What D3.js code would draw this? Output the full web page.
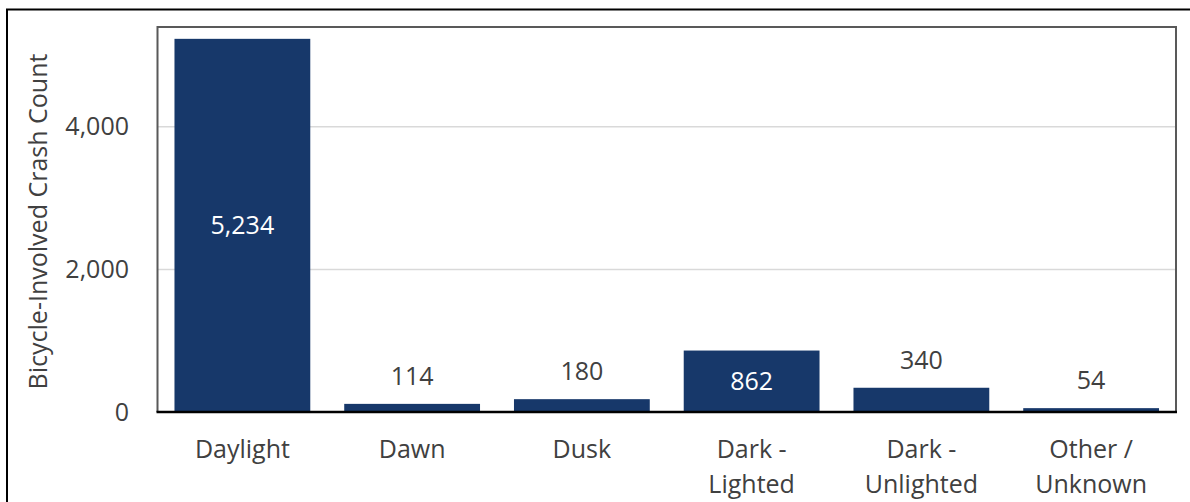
<!DOCTYPE html>
<html>
<head>
<meta charset="utf-8">
<script src="https://cdn.jsdelivr.net/npm/d3@7"></script>
<style>
  html, body { margin: 0; padding: 0; background: #fff; }
  svg { display: block; }
  text { font-family: "Open Sans", "Noto Sans", sans-serif; }
</style>
</head>
<body>
<svg id="chart" width="1190" height="502"></svg>
<script>
// Bicycle-involved crashes by lighting condition
const categories = ["Daylight", "Dawn", "Dusk", "Dark - Lighted", "Dark - Unlighted", "Other / Unknown"];
const categoryLines = [["Daylight"], ["Dawn"], ["Dusk"], ["Dark -", "Lighted"], ["Dark -", "Unlighted"], ["Other /", "Unknown"]];
const crashCounts = [5234, 114, 180, 862, 340, 54];
const tickValues = [0, 2000, 4000];
const labelsInside = [true, false, false, true, false, false];

const svg = d3.select("#chart");
const W = 1190, H = 502;
const FS = 25;
const plot = { left: 157.5, top: 27, right: 1176, bottom: 412 };

// Outer frame (only top and left edges fall inside the view)
svg.append("rect")
  .attr("x", 7).attr("y", 9.5)
  .attr("width", W + 20).attr("height", H + 20)
  .attr("fill", "none").attr("stroke", "#000").attr("stroke-width", 2);

const x = d3.scaleBand()
  .domain(categories)
  .range([plot.left, plot.right])
  .paddingInner(0.2)
  .paddingOuter(0.1);

const y = d3.scaleLinear()
  .domain([0, 5400])
  .range([plot.bottom, plot.top]);

// Gridlines
svg.append("g")
  .selectAll("line")
  .data(tickValues.filter(v => v > 0))
  .join("line")
  .attr("x1", plot.left).attr("x2", plot.right)
  .attr("y1", d => y(d)).attr("y2", d => y(d))
  .attr("stroke", "#d9d9d9").attr("stroke-width", 1.5);

// Plot area frame
svg.append("path")
  .attr("d", `M${plot.left},${plot.bottom} V${plot.top} H${plot.right} V${plot.bottom}`)
  .attr("fill", "none").attr("stroke", "#595959").attr("stroke-width", 2);

// Bars
svg.append("g")
  .selectAll("rect")
  .data(crashCounts)
  .join("rect")
  .attr("x", (d, i) => x(categories[i]))
  .attr("width", x.bandwidth())
  .attr("y", d => y(d))
  .attr("height", d => y(0) - y(d))
  .attr("fill", "#17386a");

// Baseline
svg.append("line")
  .attr("x1", plot.left - 1).attr("x2", plot.right + 1)
  .attr("y1", y(0)).attr("y2", y(0))
  .attr("stroke", "#000").attr("stroke-width", 2.5);

// Y axis tick labels
const yAxis = d3.axisLeft(y)
  .tickValues(tickValues)
  .tickFormat(d3.format(","))
  .tickSize(0)
  .tickPadding(0);
const yg = svg.append("g")
  .attr("transform", `translate(129,0)`)
  .call(yAxis);
yg.select(".domain").remove();
yg.selectAll("text")
  .attr("font-size", FS)
  .attr("fill", "#404040")
  .attr("font-family", "'Open Sans', sans-serif");

// Y axis title
svg.append("text")
  .attr("transform", `translate(47,${(plot.top + plot.bottom) / 2 + 2}) rotate(-90)`)
  .attr("text-anchor", "middle")
  .attr("font-size", FS)
  .attr("fill", "#404040")
  .text("Bicycle-Involved Crash Count");

// Category labels (wrapped)
const xg = svg.append("g");
categoryLines.forEach((lines, i) => {
  const cx = x(categories[i]) + x.bandwidth() / 2;
  const t = xg.append("text")
    .attr("x", cx).attr("y", 458)
    .attr("text-anchor", "middle")
    .attr("font-size", FS)
    .attr("fill", "#404040");
  lines.forEach((ln, j) => {
    t.append("tspan").attr("x", cx).attr("y", 458 + j * 35).text(ln);
  });
});

// Value labels
svg.append("g")
  .selectAll("text")
  .data(crashCounts)
  .join("text")
  .attr("x", (d, i) => x(categories[i]) + x.bandwidth() / 2)
  .attr("y", (d, i) => labelsInside[i] ? (y(d) + y(0)) / 2 + 9 : y(d) - 19)
  .attr("text-anchor", "middle")
  .attr("font-size", FS)
  .attr("fill", (d, i) => labelsInside[i] ? "#fff" : "#404040")
  .text(d => d3.format(",")(d));
</script>
</body>
</html>
